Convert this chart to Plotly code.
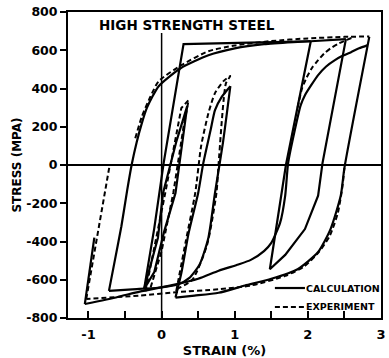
import plotly.graph_objects as go

# ---------------- data (strain in %, stress in MPa) ----------------
# Calculation (solid)
calc_outer_up_strain = [-0.72, -0.64, -0.55, -0.47, -0.41, -0.34, -0.27, -0.20, -0.04, 0.26, 0.64, 1.00, 1.40, 1.80, 2.04]
calc_outer_up_stress = [-658, -500, -320, -130, 0, 120, 219, 300, 412, 506, 574, 610, 632, 643, 648]

calc_box_strain = [-0.24, -0.10, 0.03, 0.12, 0.30, 1.20, 2.04, 2.52]
calc_box_stress = [-650, -330, 15, 220, 632, 640, 647, 658]

calc_drop_strain = [2.04, 1.70, 1.48, 1.69, 1.96, 2.14, 2.20, 2.52]
calc_drop_stress = [647, 0, -545, -470, -335, -160, 10, 658]

calc_reload_strain = [-1.05, -0.60, -0.30, 0.16, 0.50, 0.78, 1.05, 1.22, 1.40, 1.50, 1.62, 1.69, 1.73,
                      1.82, 1.90, 1.96, 2.05, 2.14, 2.25, 2.37, 2.48, 2.59, 2.70, 2.82]
calc_reload_stress = [-727, -690, -662, -627, -595, -553, -520, -496, -450, -407, -303, -160, 10,
                      180, 310, 365, 420, 470, 515, 548, 572, 590, 610, 627]

calc_outer_down_strain = [2.84, 2.50, 2.45, 2.31, 2.14, 1.86, 1.50, 1.14, 0.78, 0.45, 0.19]
calc_outer_down_stress = [670, -15, -160, -335, -455, -545, -595, -630, -668, -683, -693]

calc_loop2_up_strain = [0.19, 0.27, 0.37, 0.50, 0.57, 0.67, 0.73, 0.82, 0.94]
calc_loop2_up_stress = [-693, -565, -355, -146, 10, 183, 287, 355, 412]

calc_loop2_down_strain = [0.94, 0.84, 0.73, 0.64, 0.52, 0.38, 0.22, -0.05, -0.40, -0.72]
calc_loop2_down_stress = [412, 120, -146, -380, -520, -590, -625, -642, -650, -658]

calc_loop1_strain = [-0.24, -0.05, 0.02, 0.20, 0.35, 0.19, 0.03, -0.10, -0.24]
calc_loop1_stress = [-650, -380, -146, 120, 308, -146, -355, -560, -650]

calc_left_strain = [-1.05, -0.92]
calc_left_stress = [-727, -380]

# Experiment (dashed)
exp_outer_up_strain = [-0.36, -0.27, -0.15, -0.04, 0.27, 0.64, 1.00, 1.50, 2.00, 2.50, 2.84]
exp_outer_up_stress = [140, 253, 360, 438, 522, 595, 625, 648, 662, 670, 672]

exp_outer_down_strain = [2.50, 2.47, 2.41, 2.30, 2.14, 1.95, 1.69, 1.22, 0.78, 0.20, -0.31, -1.03]
exp_outer_down_stress = [-15, -120, -250, -370, -460, -530, -580, -630, -650, -665, -683, -700]

exp_left_strain = [-1.03, -0.71]
exp_left_stress = [-700, 0]

exp_loop1_strain = [-0.22, 0.05, 0.27, 0.37, 0.30, 0.16, 0.00, -0.15]
exp_loop1_stress = [-660, -146, 298, 340, 200, -146, -450, -640]

exp_loop2_strain = [0.20, 0.33, 0.46, 0.54, 0.64, 0.73, 0.85, 0.94, 0.88, 0.78, 0.75, 0.62, 0.42, 0.20]
exp_loop2_stress = [-660, -400, -146, 99, 271, 376, 440, 465, 428, 10, -146, -420, -600, -650]

exp_right_strain = [1.86, 1.92, 1.98, 2.06, 2.14, 2.22, 2.31, 2.42, 2.60]
exp_right_stress = [300, 400, 455, 510, 548, 582, 610, 635, 665]

y_ticks = [-800, -600, -400, -200, 0, 200, 400, 600, 800]
y_tick_text = ["-800", "-600", "-400", "-200", "0", "200", "400", "600", "800"]
x_ticks = [-1, 0, 1, 2, 3]
x_tick_text = ["-1", "0", "1", "2", "3"]

legend_labels = ["CALCULATION", "EXPERIMENT"]

# ---------------- figure ----------------
FONT = "DejaVu Sans"
fig = go.Figure()

calc = [
    (calc_outer_up_strain, calc_outer_up_stress, "spline"),
    (calc_box_strain, calc_box_stress, "linear"),
    (calc_drop_strain, calc_drop_stress, "linear"),
    (calc_reload_strain, calc_reload_stress, "spline"),
    (calc_outer_down_strain, calc_outer_down_stress, "spline"),
    (calc_loop2_up_strain, calc_loop2_up_stress, "spline"),
    (calc_loop2_down_strain, calc_loop2_down_stress, "spline"),
    (calc_loop1_strain, calc_loop1_stress, "linear"),
    (calc_left_strain, calc_left_stress, "linear"),
]
exp = [
    (exp_outer_up_strain, exp_outer_up_stress, "spline"),
    (exp_outer_down_strain, exp_outer_down_stress, "spline"),
    (exp_left_strain, exp_left_stress, "linear"),
    (exp_loop1_strain, exp_loop1_stress, "linear"),
    (exp_loop2_strain, exp_loop2_stress, "spline"),
    (exp_right_strain, exp_right_stress, "spline"),
]

SOLID = dict(color="black", width=2.2)
DASHED = dict(color="black", width=2, dash="5px,3px")

for xs, ys, shp in calc:
    fig.add_trace(go.Scatter(x=xs, y=ys, mode="lines", name=legend_labels[0], showlegend=False,
                             line=dict(**SOLID, shape=shp, smoothing=0.6)))
for xs, ys, shp in exp:
    fig.add_trace(go.Scatter(x=xs, y=ys, mode="lines", name=legend_labels[1], showlegend=False,
                             line=dict(**DASHED, shape=shp, smoothing=0.6)))

# vertical reference line at zero strain
fig.add_shape(type="line", xref="x", yref="y", x0=0, x1=0, y0=-800, y1=690,
              line=dict(color="black", width=1.5), layer="below")

# legend key lines + labels in the lower right corner
for label, style, ypos in [(legend_labels[0], SOLID, 0.098), (legend_labels[1], DASHED, 0.036)]:
    fig.add_shape(type="line", xref="paper", yref="paper", x0=0.661, x1=0.757, y0=ypos, y1=ypos,
                  line=style)
    fig.add_annotation(x=0.757, y=ypos, xref="paper", yref="paper", text=label, showarrow=False,
                       xanchor="left", yanchor="middle", xshift=-1,
                       font=dict(family=FONT, size=9.5, color="black", weight="bold"))

fig.add_annotation(x=0.35, y=730, xref="x", yref="y", text="HIGH STRENGTH STEEL",
                   showarrow=False, font=dict(family=FONT, size=13.5, color="black", weight="bold"))

fig.update_layout(
    width=389, height=358,
    margin=dict(l=68, r=8, t=12, b=40),
    paper_bgcolor="white", plot_bgcolor="white",
    font=dict(family=FONT, color="black", size=12.5, weight="bold"),
    showlegend=False,
)
fig.update_xaxes(
    range=[-1.28, 3.0], tickvals=x_ticks, ticktext=x_tick_text,
    ticks="inside", ticklen=7, tickwidth=2, tickcolor="black",
    minor=dict(tick0=0, dtick=0.5, ticks="inside", ticklen=7, tickwidth=2, tickcolor="black"),
    showline=True, linecolor="black", linewidth=2, mirror=True,
    showgrid=False, zeroline=False, automargin=False, ticklabelstandoff=3,
    title=dict(text="STRAIN (%)", font=dict(size=13, family=FONT, weight="bold"), standoff=6),
    tickfont=dict(size=13, family=FONT, weight="bold"),
)
fig.update_yaxes(
    range=[-800, 800], tickvals=y_ticks, ticktext=y_tick_text,
    ticks="outside", ticklen=6, tickwidth=2, tickcolor="black",
    showline=True, linecolor="black", linewidth=2, mirror=True,
    showgrid=False, zeroline=True, zerolinecolor="black", zerolinewidth=1.5, automargin=False,
    title=dict(text="STRESS (MPA)", font=dict(size=12, family=FONT, weight="bold"), standoff=2),
    tickfont=dict(size=12.5, family=FONT, weight="bold"),
)

fig.write_html("out.html", config={"displayModeBar": False},
               post_script="document.body.style.margin='0px';")
